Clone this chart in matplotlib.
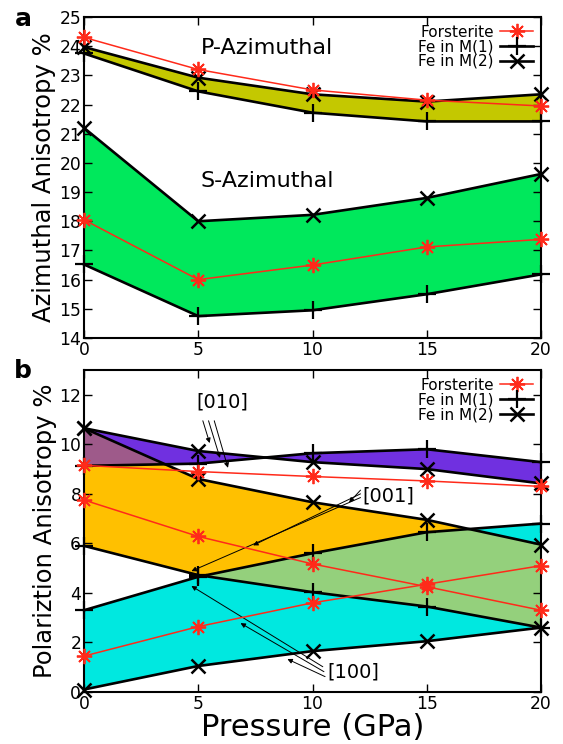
import numpy as np
import matplotlib
matplotlib.use("Agg")
import matplotlib.pyplot as plt

pressure = [0, 5, 10, 15, 20]

# panel a - azimuthal anisotropy (%)
p_fo = [24.3, 23.2, 22.5, 22.15, 21.95]
p_m1 = [23.75, 22.45, 21.72, 21.42, 21.42]
p_m2 = [23.97, 22.92, 22.35, 22.1, 22.35]
s_fo = [18.05, 16.0, 16.5, 17.12, 17.38]
s_m1 = [16.52, 14.75, 14.95, 15.5, 16.18]
s_m2 = [21.2, 18.0, 18.22, 18.8, 19.62]

# panel b - polarization anisotropy (%)
b010_fo = [9.15, 8.9, 8.7, 8.52, 8.3]
b010_m1 = [9.13, 9.22, 9.64, 9.8, 9.28]
b010_m2 = [10.65, 9.73, 9.28, 9.0, 8.42]
b001_fo = [7.75, 6.28, 5.17, 4.25, 3.3]
b001_m1 = [5.9, 4.72, 4.03, 3.45, 2.6]
b001_m2 = [10.65, 8.6, 7.66, 6.95, 5.95]
b100_fo = [1.45, 2.64, 3.6, 4.35, 5.1]
b100_m1 = [3.3, 4.65, 5.6, 6.45, 6.8]
b100_m2 = [0.1, 1.05, 1.65, 2.05, 2.6]

labels = ["Forsterite", "Fe in M(1)", "Fe in M(2)"]

RED = "#ff2a1a"
star = (8, 2, 0)


def style_axes(ax, ylim, yticks):
    ax.set_xlim(0, 20)
    ax.set_ylim(*ylim)
    ax.set_xticks(pressure)
    ax.set_yticks(yticks)
    ax.tick_params(direction="in", top=True, right=True, length=6, width=1,
                   labelsize=12.3, pad=2)
    for sp in ax.spines.values():
        sp.set_linewidth(1.5)


def draw_set(ax, fo, m1, m2):
    h1, = ax.plot(pressure, fo, color=RED, lw=1.1, marker=star, ms=11, mew=1.3,
                  clip_on=False, zorder=5)
    h2, = ax.plot(pressure, m1, color="k", lw=1.9, marker="+", ms=13, mew=1.6,
                  clip_on=False, zorder=4)
    h3, = ax.plot(pressure, m2, color="k", lw=1.9, marker="x", ms=10, mew=1.8,
                  clip_on=False, zorder=4)
    return [h1, h2, h3]


def add_legend(ax, handles):
    ax.legend(handles, labels, loc="upper right", frameon=False, markerfirst=False,
              fontsize=11, labelspacing=-0.02, handlelength=2.2, handletextpad=0.4,
              borderaxespad=0.3, borderpad=0.2)


fig = plt.figure(figsize=(5.63, 7.44), dpi=100)
ax_a = fig.add_axes([0.1492, 0.5457, 0.8118, 0.4315])
ax_b = fig.add_axes([0.1492, 0.0699, 0.8118, 0.4328])

# ---- panel a
ax_a.fill_between(pressure, p_m1, p_m2, color="#c4c800", lw=0)
ax_a.fill_between(pressure, s_m1, s_m2, color="#00e85c", lw=0)
hs = draw_set(ax_a, p_fo, p_m1, p_m2)
draw_set(ax_a, s_fo, s_m1, s_m2)
style_axes(ax_a, (14, 25), range(14, 26))
ax_a.set_ylabel("Azimuthal Anisotropy %", fontsize=17.5, labelpad=2)
ax_a.text(8.0, 23.95, "P-Azimuthal", fontsize=16, ha="center", va="center")
ax_a.text(8.0, 19.38, "S-Azimuthal", fontsize=16, ha="center", va="center")
add_legend(ax_a, hs)

# ---- panel b
ax_b.fill_between(pressure, b010_m1, b010_m2, color="#7030e0", lw=0, interpolate=True)
ax_b.fill_between(pressure, b001_m1, b001_m2, color="#ffc000", lw=0)
ax_b.fill_between(pressure, b100_m2, b100_m1, color="#00e8e0", lw=0)

# overlapping bands get their own mixed colour
xf = np.linspace(0, 20, 801)
lo010 = np.minimum(np.interp(xf, pressure, b010_m1), np.interp(xf, pressure, b010_m2))
hi010 = np.maximum(np.interp(xf, pressure, b010_m1), np.interp(xf, pressure, b010_m2))
lo001 = np.interp(xf, pressure, b001_m1)
hi001 = np.interp(xf, pressure, b001_m2)
lo100 = np.interp(xf, pressure, b100_m2)
hi100 = np.interp(xf, pressure, b100_m1)
top = np.minimum(hi010, hi001)
bot = np.maximum(lo010, lo001)
ax_b.fill_between(xf, bot, top, where=top > bot, color="#9e5a8a", lw=0, interpolate=True)
top = np.minimum(hi001, hi100)
bot = np.maximum(lo001, lo100)
ax_b.fill_between(xf, bot, top, where=top > bot, color="#94d07c", lw=0, interpolate=True)

hs = draw_set(ax_b, b010_fo, b010_m1, b010_m2)
draw_set(ax_b, b001_fo, b001_m1, b001_m2)
draw_set(ax_b, b100_fo, b100_m1, b100_m2)
style_axes(ax_b, (0, 13), range(0, 13, 2))
ax_b.set_ylabel("Polariztion Anisotropy %", fontsize=17.5, labelpad=2)
ax_b.set_xlabel("Pressure (GPa)", fontsize=22, labelpad=0)
add_legend(ax_b, hs)

arrow = dict(arrowstyle="-|>", lw=0.7, color="k", mutation_scale=7, shrinkA=0, shrinkB=0)
ax_b.text(6.05, 11.7, "[010]", fontsize=14, ha="center", va="center")
for (x0, y0), (x1, y1) in [((5.2, 10.95), (5.5, 10.05)),
                           ((5.45, 10.95), (5.95, 9.45)),
                           ((5.7, 10.95), (6.3, 9.05))]:
    ax_b.annotate("", xy=(x1, y1), xytext=(x0, y0), arrowprops=arrow)

ax_b.text(12.2, 7.9, "[001]", fontsize=14, ha="left", va="center")
for (x0, y0), (x1, y1) in [((12.1, 8.15), (11.6, 7.65)),
                           ((12.1, 8.0), (7.4, 5.92)),
                           ((12.1, 7.85), (4.7, 4.88))]:
    ax_b.annotate("", xy=(x1, y1), xytext=(x0, y0), arrowprops=arrow)

ax_b.text(10.65, 0.82, "[100]", fontsize=14, ha="left", va="center")
for (x0, y0), (x1, y1) in [((10.55, 0.62), (8.9, 1.33)),
                           ((10.5, 0.82), (6.85, 2.78)),
                           ((10.45, 1.02), (4.7, 4.28))]:
    ax_b.annotate("", xy=(x1, y1), xytext=(x0, y0), arrowprops=arrow)

fig.text(23 / 563, 1 - 19 / 744, "a", fontsize=18, fontweight="bold", ha="center", va="center")
fig.text(23 / 563, 1 - 371 / 744, "b", fontsize=18, fontweight="bold", ha="center", va="center")

fig.savefig("out.png", dpi=100)
